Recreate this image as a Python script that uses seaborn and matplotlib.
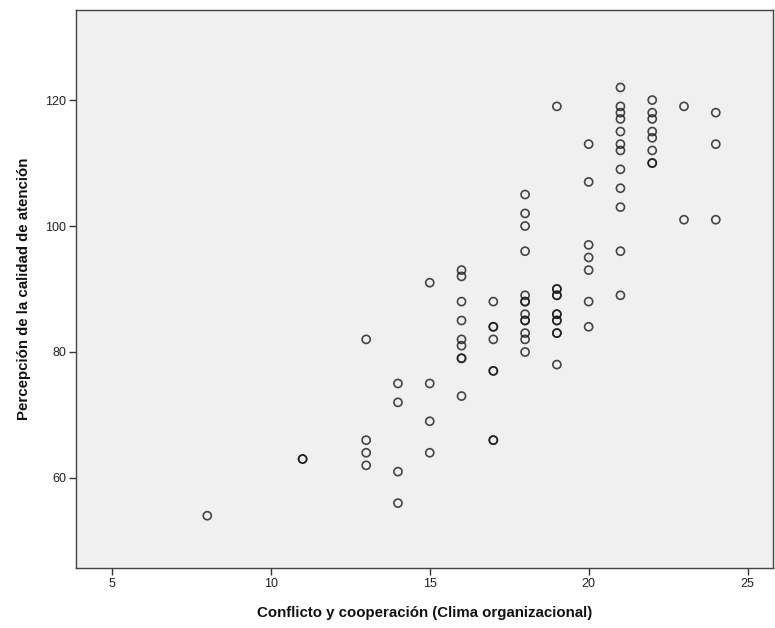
import numpy as np
import pandas as pd
import matplotlib
matplotlib.use("Agg")
import matplotlib.pyplot as plt
import seaborn as sns
from matplotlib import font_manager

# Data
conflicto = ([8] + [11] * 2 + [13] * 4 + [14] * 4 + [15] * 4 + [16] * 9 + [17] * 8 +
             [18] * 13 + [19] * 12 + [20] * 7 + [21] * 12 + [22] * 8 + [23] * 2 + [24] * 3)
percepcion = ([54] +
              [63, 63] +
              [82, 66, 64, 62] +
              [75, 72, 61, 56] +
              [91, 75, 69, 64] +
              [93, 92, 88, 85, 82, 81, 79, 79, 73] +
              [88, 84, 84, 82, 77, 77, 66, 66] +
              [105, 102, 100, 96, 89, 88, 88, 86, 85, 85, 83, 82, 80] +
              [119, 90, 90, 89, 89, 86, 86, 85, 85, 83, 83, 78] +
              [113, 107, 97, 95, 93, 88, 84] +
              [122, 119, 118, 117, 115, 113, 112, 109, 106, 103, 96, 89] +
              [120, 118, 117, 115, 114, 112, 110, 110] +
              [119, 101] +
              [118, 113, 101])
x_ticks = [5, 10, 15, 20, 25]
y_ticks = [60, 80, 100, 120]
x_label = "Conflicto y cooperación (Clima organizacional)"
y_label = "Percepción de la calidad de atención"

df = pd.DataFrame({"x": conflicto, "y": percepcion})

sns.set_style("ticks")
plt.rcParams["font.family"] = ["Liberation Sans", "DejaVu Sans"]

names = {f.name for f in font_manager.fontManager.ttflist}
tick_family = ["Liberation Sans Narrow", "Liberation Sans"] if "Liberation Sans Narrow" in names else ["Liberation Sans"]

fig = plt.figure(figsize=(7.75, 6.28), dpi=100)
ax = fig.add_axes([76 / 775, 1 - 568 / 628, (773 - 76) / 775, (568 - 10) / 628])
ax.set_facecolor("#F0F0F0")

sns.scatterplot(data=df, x="x", y="y", ax=ax, marker="o", s=34,
                facecolors="none", edgecolor=(0.1, 0.1, 0.1, 0.8), linewidth=1.2)

ax.set_xlim(3.87, 25.8)
ax.set_ylim(45.7, 134.3)
ax.set_xticks(x_ticks)
ax.set_yticks(y_ticks)
ax.tick_params(axis="both", direction="out", length=5, width=1, color="#333333",
               labelsize=9, labelcolor="#222222", pad=2)
for lab in ax.get_xticklabels() + ax.get_yticklabels():
    lab.set_family(tick_family)
for s in ax.spines.values():
    s.set_color("#444444")
    s.set_linewidth(1)
    s.set_visible(True)

ax.set_xlabel(x_label, fontsize=10.8, fontweight="bold", color="#111111", labelpad=12)
ax.set_ylabel(y_label, fontsize=10.8, fontweight="bold", color="#111111", labelpad=10)

fig.savefig("out.png", dpi=100)
